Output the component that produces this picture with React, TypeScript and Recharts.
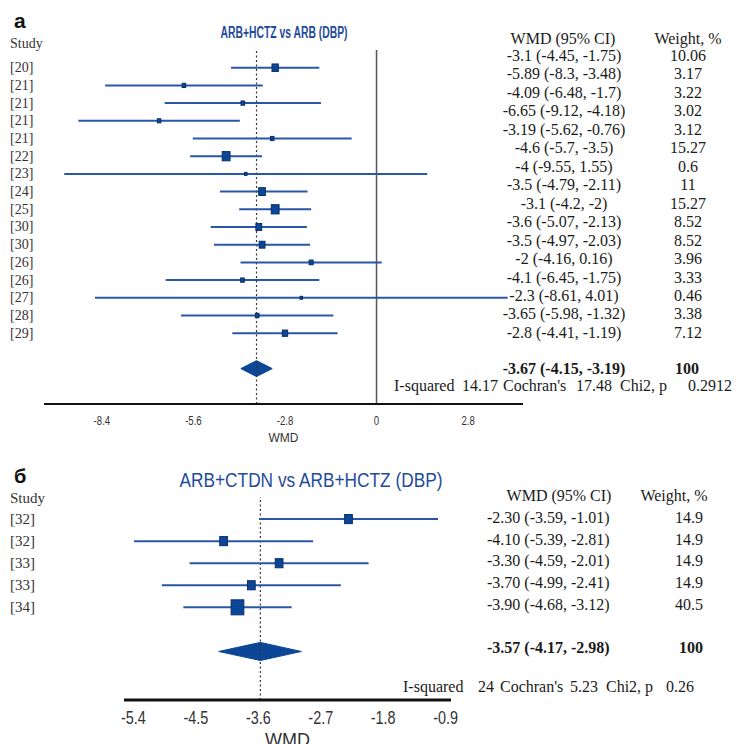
import React from 'react';
import { ComposedChart, Scatter, ErrorBar, Area, XAxis, YAxis, ReferenceLine } from 'recharts';

// panel а: ARB+HCTZ vs ARB (DBP)
const studiesA = ['[20]', '[21]', '[21]', '[21]', '[21]', '[22]', '[23]', '[24]', '[25]', '[30]', '[30]', '[26]', '[26]', '[27]', '[28]', '[29]'];
const wmdA = [-3.1, -5.89, -4.09, -6.65, -3.19, -4.6, -4, -3.5, -3.1, -3.6, -3.5, -2, -4.1, -2.3, -3.65, -2.8];
const lowA = [-4.45, -8.3, -6.48, -9.12, -5.62, -5.7, -9.55, -4.79, -4.2, -5.07, -4.97, -4.16, -6.45, -8.61, -5.98, -4.41];
const highA = [-1.75, -3.48, -1.7, -4.18, -0.76, -3.5, 1.55, -2.11, -2, -2.13, -2.03, 0.16, -1.75, 4.01, -1.32, -1.19];
const weightA = [10.06, 3.17, 3.22, 3.02, 3.12, 15.27, 0.6, 11, 15.27, 8.52, 8.52, 3.96, 3.33, 0.46, 3.38, 7.12];
const pooledA = { wmd: -3.67, low: -4.15, high: -3.19, weight: 100 };
const statsA = { i2: '14.17', q: '17.48', p: '0.2912' };
const ticksA = [-8.4, -5.6, -2.8, 0, 2.8];

// panel б: ARB+CTDN vs ARB+HCTZ (DBP)
const studiesB = ['[32]', '[32]', '[33]', '[33]', '[34]'];
const wmdB = [-2.3, -4.1, -3.3, -3.7, -3.9];
const lowB = [-3.59, -5.39, -4.59, -4.99, -4.68];
const highB = [-1.01, -2.81, -2.01, -2.41, -3.12];
const weightB = [14.9, 14.9, 14.9, 14.9, 40.5];
const pooledB = { wmd: -3.57, low: -4.17, high: -2.98, weight: 100 };
const statsB = { i2: '24', q: '5.23', p: '0.26' };
const ticksB = [-5.4, -4.5, -3.6, -2.7, -1.8, -0.9];

const BLUE = '#2a56a6';
const NAVY = '#0c4797';
const SERIF = '"Liberation Serif", "Times New Roman", serif';
const SANS = '"Liberation Sans", Arial, sans-serif';

const buildRows = (wmd: number[], low: number[], high: number[], weight: number[]) =>
  wmd.map((v, i) => ({ x: v, y: i, err: [v - low[i], high[i] - v], w: weight[i] }));

const buildDiamond = (p: { wmd: number; low: number; high: number }, row: number, half: number) => [
  { x: p.low, band: [row, row] },
  { x: p.wmd, band: [row - half, row + half] },
  { x: p.high, band: [row, row] },
];

const BoxShape = (props: any) => {
  const { cx, cy, payload } = props;
  const w = Math.max(2.5, 2 * Math.sqrt(payload.w));
  const h = w * 1.18;
  return <rect x={cx - w / 2} y={cy - h / 2} width={w} height={h} fill={NAVY} stroke="#082f68" strokeWidth={1} />;
};

interface PanelProps {
  width: number;
  height: number;
  margin: { top: number; right: number; bottom: number; left: number };
  yAxisWidth: number;
  xAxisHeight: number;
  xDomain: [number, number];
  yDomain: [number, number];
  xTicks: number[];
  studies: string[];
  rows: any[];
  diamond: any[];
  pooled: number;
  showZero: boolean;
  labelSize: number;
  tickSize: number;
  tickMargin: number;
  axisWidth: number;
  wmdOffset: number;
}

// narrow sans tick labels (no condensed face installed, so squeeze the glyphs)
const narrowTick = (fontSize: number) => (t: any) => (
  <text
    key={t.index}
    x={0}
    y={0}
    dy="0.71em"
    textAnchor="middle"
    fontFamily={SANS}
    fontSize={fontSize}
    fill="#333"
    transform={`translate(${t.x},${t.y}) scale(0.8,1)`}
  >
    {String(t.payload.value)}
  </text>
);

const ForestPanel: React.FC<PanelProps> = (p) => (
  <ComposedChart width={p.width} height={p.height} data={p.diamond} margin={p.margin}>
    <XAxis
      type="number"
      dataKey="x"
      domain={p.xDomain}
      allowDataOverflow
      ticks={p.xTicks}
      interval={0}
      tickLine={false}
      tickMargin={p.tickMargin}
      height={p.xAxisHeight}
      axisLine={{ stroke: '#111', strokeWidth: p.axisWidth }}
      tick={narrowTick(p.tickSize)}
      label={{ value: 'WMD', position: 'insideBottom', offset: p.wmdOffset, fontSize: p.tickSize, fill: '#333', fontFamily: SANS }}
    />
    <YAxis
      type="number"
      dataKey="y"
      domain={p.yDomain}
      reversed
      allowDataOverflow
      width={p.yAxisWidth}
      ticks={p.studies.map((_, i) => i)}
      interval={0}
      axisLine={false}
      tickLine={false}
      tick={(t: any) => (
        <text key={t.index} x={10} y={t.y} dy="0.32em" fontFamily={SERIF} fontSize={p.labelSize} fill="#333">
          {p.studies[t.payload.value]}
        </text>
      )}
    />
    {p.showZero && <ReferenceLine x={0} stroke="#555" strokeWidth={1.5} />}
    <ReferenceLine x={p.pooled} stroke="#333" strokeWidth={1.2} strokeDasharray="2 2.5" />
    <Area
      type="linear"
      dataKey="band"
      stroke={NAVY}
      fill={NAVY}
      fillOpacity={1}
      dot={false}
      activeDot={false}
      isAnimationActive={false}
    />
    <Scatter data={p.rows} shape={BoxShape} isAnimationActive={false}>
      <ErrorBar dataKey="err" direction="x" width={0} stroke={BLUE} strokeWidth={2} />
    </Scatter>
  </ComposedChart>
);

const fmtA = (v: number) => String(v);
const fmtB = (v: number) => v.toFixed(2);

const Overlay = () => {
  const rowYA = (i: number) => 61 + i * 18.46;
  const rowYB = (i: number) => 523 + i * 21.7;
  return (
    <svg width={736} height={744} style={{ position: 'absolute', left: 0, top: 0, pointerEvents: 'none' }}>
      {/* panel а */}
      <text x={14} y={28} fontFamily={SANS} fontWeight="bold" fontSize={21} fill="#111">а</text>
      <text x={284} y={38} textAnchor="middle" fontFamily={SANS} fontWeight="bold" fontSize={16} fill="#1f4b9b"
        textLength={127} lengthAdjust="spacingAndGlyphs">ARB+HCTZ vs ARB (DBP)</text>
      <text x={10} y={48} fontFamily={SERIF} fontSize={14} fill="#333">Study</text>
      <g fontFamily={SERIF} fontSize={16} fill="#1a1a1a">
        <text x={563} y={44} textAnchor="middle">WMD (95% CI)</text>
        <text x={688} y={44} textAnchor="middle">Weight, %</text>
        {wmdA.map((v, i) => (
          <g key={i}>
            <text x={564} y={rowYA(i)} textAnchor="middle">{`${fmtA(v)} (${fmtA(lowA[i])}, ${fmtA(highA[i])})`}</text>
            <text x={688} y={rowYA(i)} textAnchor="middle">{weightA[i]}</text>
          </g>
        ))}
        <text x={564} y={374} textAnchor="middle" fontWeight="bold">{`${pooledA.wmd} (${pooledA.low}, ${pooledA.high})`}</text>
        <text x={687} y={374} textAnchor="middle" fontWeight="bold">{pooledA.weight}</text>
        <text x={394} y={391}>I-squared</text>
        <text x={462} y={391}>{statsA.i2}</text>
        <text x={503} y={391}>Cochran's</text>
        <text x={576} y={391}>{statsA.q}</text>
        <text x={620} y={391}>Chi2, p</text>
        <text x={688} y={391}>{statsA.p}</text>
      </g>

      {/* panel б */}
      <text x={14} y={483} fontFamily={SANS} fontWeight="bold" fontSize={20} fill="#111">б</text>
      <text x={311} y={487} textAnchor="middle" fontFamily={SANS} fontSize={20} fill="#1f4b9b"
        textLength={263} lengthAdjust="spacingAndGlyphs">ARB+CTDN vs ARB+HCTZ (DBP)</text>
      <text x={10} y={503} fontFamily={SERIF} fontSize={15} fill="#333">Study</text>
      <g fontFamily={SERIF} fontSize={16} fill="#1a1a1a">
        <text x={559} y={501} textAnchor="middle">WMD (95% CI)</text>
        <text x={674} y={501} textAnchor="middle">Weight, %</text>
        {wmdB.map((v, i) => (
          <g key={i}>
            <text x={487} y={rowYB(i)}>{`${fmtB(v)} (${fmtB(lowB[i])}, ${fmtB(highB[i])})`}</text>
            <text x={703} y={rowYB(i)} textAnchor="end">{weightB[i].toFixed(1)}</text>
          </g>
        ))}
        <text x={487} y={653} fontWeight="bold">{`${fmtB(pooledB.wmd)} (${fmtB(pooledB.low)}, ${fmtB(pooledB.high)})`}</text>
        <text x={703} y={653} textAnchor="end" fontWeight="bold">{pooledB.weight}</text>
        <text x={403} y={692}>I-squared</text>
        <text x={478} y={692}>{statsB.i2}</text>
        <text x={500} y={692}>Cochran's</text>
        <text x={570} y={692}>{statsB.q}</text>
        <text x={606} y={692}>Chi2, p</text>
        <text x={666} y={692}>{statsB.p}</text>
      </g>
    </svg>
  );
};

export default function App() {
  const rowsA = buildRows(wmdA, lowA, highA, weightA);
  const rowsB = buildRows(wmdB, lowB, highB, weightB);
  const diamondA = buildDiamond(pooledA, studiesA.length + 1, 0.45);
  const diamondB = buildDiamond(pooledB, studiesB.length + 1, 0.41);

  return (
    <div style={{ position: 'absolute', left: 0, top: 0, width: 736, height: 744, background: '#fff', overflow: 'hidden' }}>
      <div style={{ position: 'absolute', left: 0, top: 0 }}>
        <ForestPanel
          width={736}
          height={444}
          margin={{ top: 50, right: 213, bottom: 0, left: 0 }}
          yAxisWidth={44}
          xAxisHeight={40}
          xDomain={[-10.17, 4.48]}
          yDomain={[-1, 19]}
          xTicks={ticksA}
          studies={studiesA}
          rows={rowsA}
          diamond={diamondA}
          pooled={pooledA.wmd}
          showZero
          labelSize={14}
          tickSize={12}
          tickMargin={6}
          axisWidth={2}
          wmdOffset={2}
        />
      </div>
      <div style={{ position: 'absolute', left: 0, top: 470 }}>
        <ForestPanel
          width={736}
          height={274}
          margin={{ top: 27, right: 285, bottom: 0, left: 0 }}
          yAxisWidth={124}
          xAxisHeight={44}
          xDomain={[-5.535, -0.823]}
          yDomain={[-1, 8.2]}
          xTicks={ticksB}
          studies={studiesB}
          rows={rowsB}
          diamond={diamondB}
          pooled={pooledB.wmd}
          showZero={false}
          labelSize={15}
          tickSize={18}
          tickMargin={5}
          axisWidth={3}
          wmdOffset={-2}
        />
      </div>
      <Overlay />
    </div>
  );
}
